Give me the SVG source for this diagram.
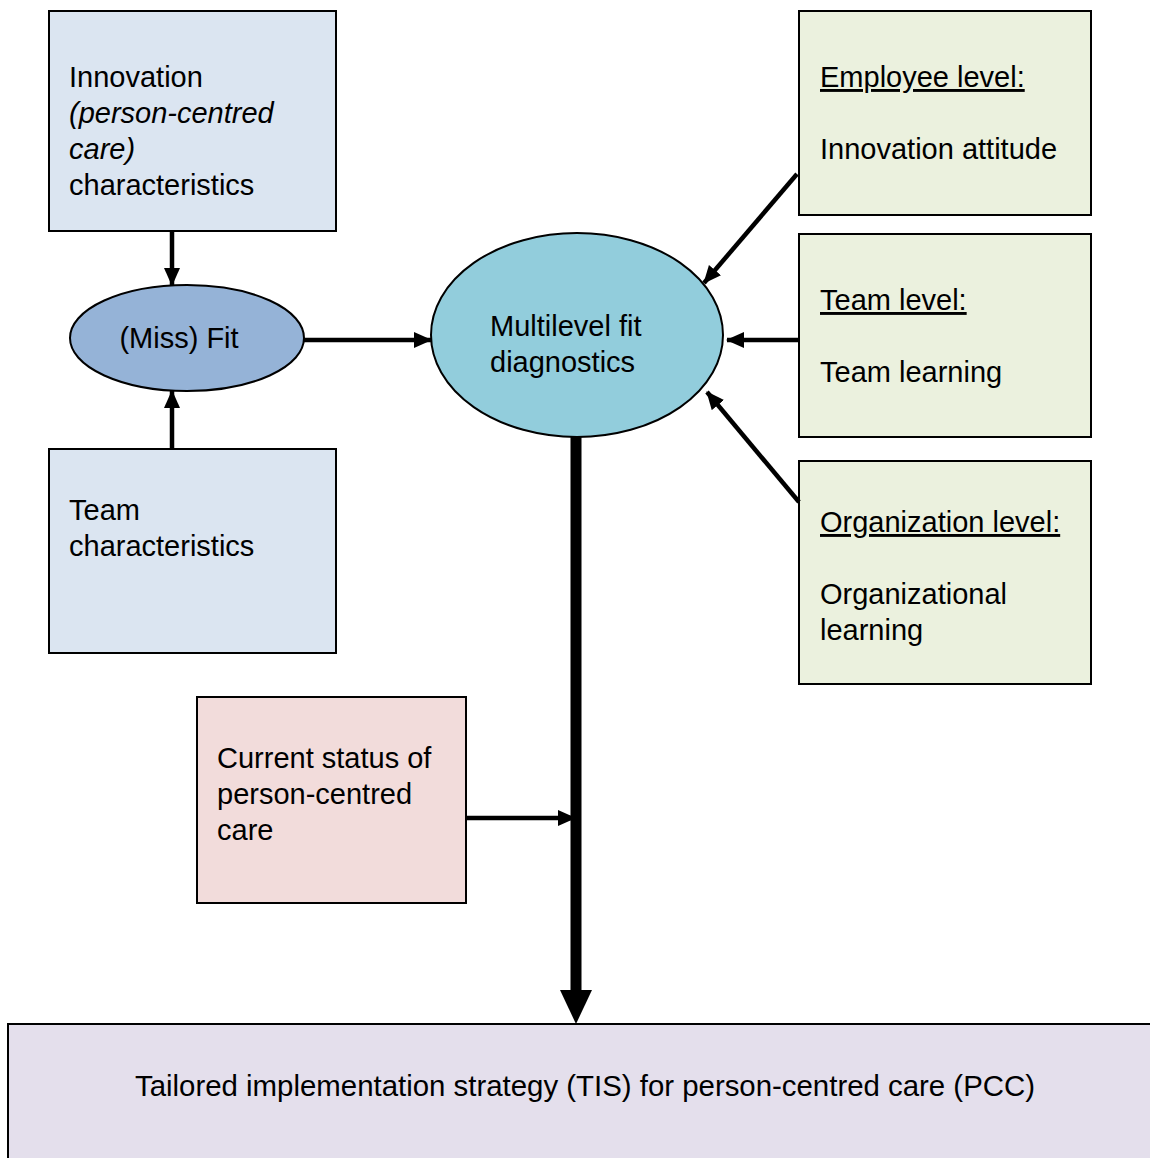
<svg xmlns="http://www.w3.org/2000/svg" width="1150" height="1158" viewBox="0 0 1150 1158">
<style>
text{font-family:"Liberation Sans",Arial,sans-serif;font-size:29px;fill:#000}
.box{stroke:#000;stroke-width:2}
.ln{stroke:#000;stroke-width:4.5;fill:none}
.u{text-decoration:underline}
</style>
<defs>
<marker id="ah" markerUnits="userSpaceOnUse" markerWidth="18" markerHeight="18" viewBox="0 0 18 18" refX="17" refY="9" orient="auto">
<path d="M0,1 L18,9 L0,17 Z" fill="#000"/>
</marker>
</defs>
<g id="innovation">
<rect class="box" x="49" y="11" width="287" height="220" fill="#dbe5f1"/>
<text x="69" y="87">Innovation</text>
<text x="69" y="123" font-style="italic">(person-centred</text>
<text x="69" y="159" font-style="italic">care)</text>
<text x="69" y="195">characteristics</text>
</g>
<g id="missfit">
<ellipse class="box" cx="187" cy="338" rx="117" ry="53" fill="#95b3d7"/>
<text x="179" y="348" text-anchor="middle">(Miss) Fit</text>
</g>
<g id="team">
<rect class="box" x="49" y="449" width="287" height="204" fill="#dbe5f1"/>
<text x="69" y="520">Team</text>
<text x="69" y="556">characteristics</text>
</g>
<g id="multilevel">
<ellipse class="box" cx="577" cy="335" rx="146" ry="102" fill="#92cddc"/>
<text x="490" y="336">Multilevel fit</text>
<text x="490" y="372">diagnostics</text>
</g>
<g id="employee">
<rect class="box" x="799" y="11" width="292" height="204" fill="#ebf1de"/>
<text x="820" y="87" class="u">Employee level:</text>
<text x="820" y="159">Innovation attitude</text>
</g>
<g id="teamlevel">
<rect class="box" x="799" y="234" width="292" height="203" fill="#ebf1de"/>
<text x="820" y="310" class="u">Team level:</text>
<text x="820" y="382">Team learning</text>
</g>
<g id="orglevel">
<rect class="box" x="799" y="461" width="292" height="223" fill="#ebf1de"/>
<text x="820" y="532" class="u">Organization level:</text>
<text x="820" y="604">Organizational</text>
<text x="820" y="640">learning</text>
</g>
<g id="status">
<rect class="box" x="197" y="697" width="269" height="206" fill="#f2dcdb"/>
<text x="217" y="768">Current status of</text>
<text x="217" y="804">person-centred</text>
<text x="217" y="840">care</text>
</g>
<g id="tis">
<rect class="box" x="8" y="1024" width="1150" height="140" fill="#e4dfec"/>
<text x="135" y="1096" textLength="900" lengthAdjust="spacingAndGlyphs">Tailored implementation strategy (TIS) for person-centred care (PCC)</text>
</g>
<g id="connectors">
<line class="ln" x1="172" y1="231" x2="172" y2="285" marker-end="url(#ah)"/>
<line class="ln" x1="172" y1="449" x2="172" y2="391" marker-end="url(#ah)"/>
<line class="ln" x1="304" y1="340" x2="431" y2="340" marker-end="url(#ah)"/>
<line class="ln" x1="799" y1="340" x2="727" y2="340" marker-end="url(#ah)"/>
<line class="ln" x1="797" y1="174" x2="704" y2="283" marker-end="url(#ah)"/>
<line class="ln" x1="799" y1="502" x2="707" y2="392" marker-end="url(#ah)"/>
<line class="ln" x1="466" y1="818" x2="575" y2="818" marker-end="url(#ah)"/>
<line x1="576" y1="437" x2="576" y2="992" stroke="#000" stroke-width="11"/>
<path d="M560,990 L592,990 L576,1024 Z" fill="#000"/>
</g>
</svg>
